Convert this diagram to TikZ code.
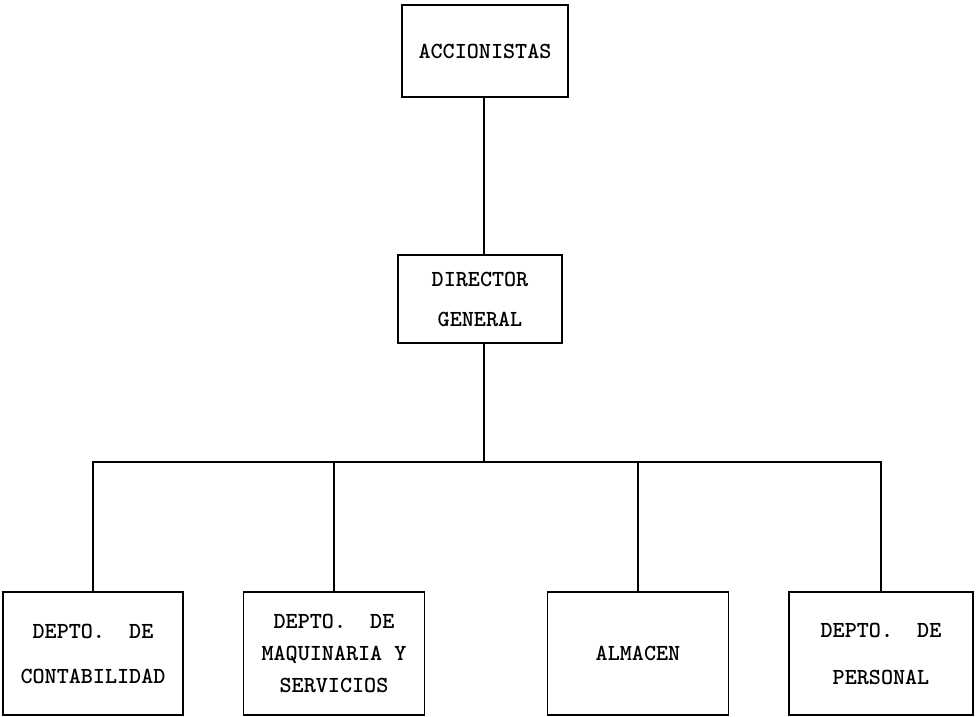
\documentclass[tikz,border=0pt]{standalone}
\begin{document}
\begin{tikzpicture}[x=1pt,y=-1pt,
  orgbox/.style={draw=black, line width=1.8pt, fill=none, inner sep=0pt, align=center,
    font=\fontsize{23}{40}\selectfont\ttfamily\bfseries},
  link/.style={draw=black, line width=2pt}]
\useasboundingbox (0,0) rectangle (977,717);
\node[orgbox, minimum width=166pt, minimum height=92pt] (acc) at (485,51) {ACCIONISTAS};
\node[orgbox, minimum width=164pt, minimum height=88pt] (dir) at (480,299) {DIRECTOR\\GENERAL};
\coordinate (busc) at (484,462);
\node[orgbox, minimum width=180pt, minimum height=123pt, font=\fontsize{23}{45}\selectfont\ttfamily\bfseries] (b1) at (93,653.5) {DEPTO.~~DE\\CONTABILIDAD};
\node[orgbox, minimum width=181pt, minimum height=123pt, font=\fontsize{23}{32}\selectfont\ttfamily\bfseries] (b2) at (334,653.5) {DEPTO.~~DE\\MAQUINARIA Y\\SERVICIOS};
\node[orgbox, minimum width=181pt, minimum height=123pt] (b3) at (638,653.5) {ALMACEN};
\node[orgbox, minimum width=184pt, minimum height=123pt, font=\fontsize{23}{47}\selectfont\ttfamily\bfseries] (b4) at (881,653.5) {DEPTO.~~DE\\PERSONAL};
\draw[link] (busc |- acc.south) -- (busc |- dir.north);
\draw[link] (busc |- dir.south) -- (busc);
\draw[link] (b1.north) |- (b4.north |- busc) -- (b4.north);
\draw[link] (b2.north |- busc) -- (b2.north);
\draw[link] (b3.north |- busc) -- (b3.north);
\end{tikzpicture}
\end{document}
